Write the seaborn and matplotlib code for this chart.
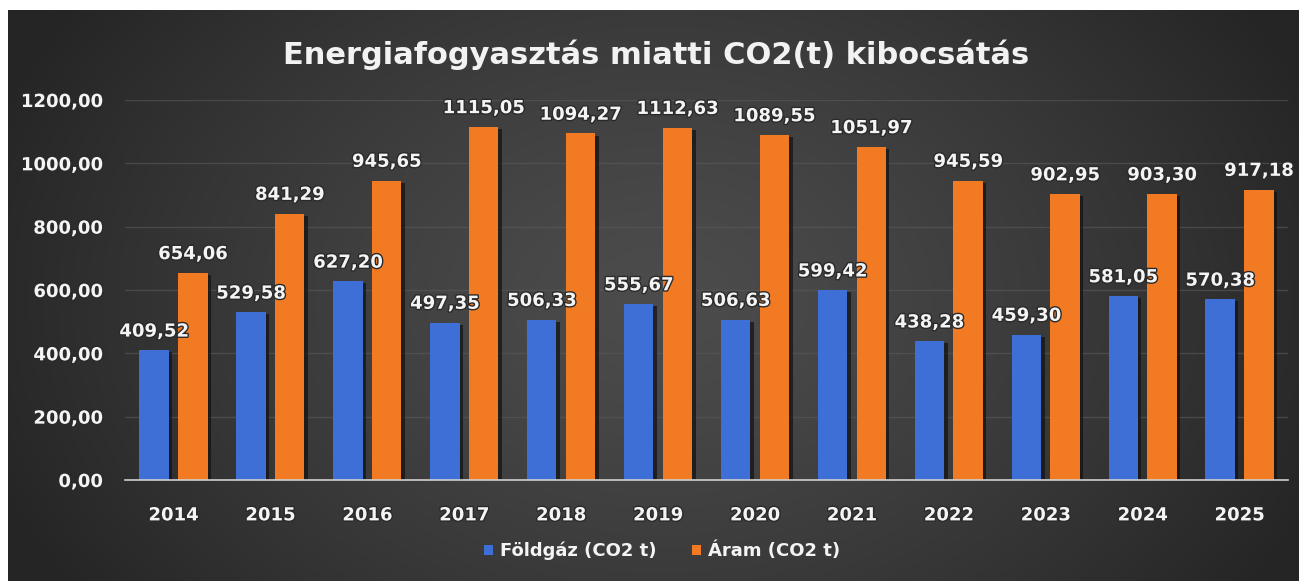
import numpy as np
import pandas as pd
import matplotlib
matplotlib.use("Agg")
import matplotlib.pyplot as plt
import matplotlib.patheffects as pe
from matplotlib.patches import Patch
import seaborn as sns

years = ["2014", "2015", "2016", "2017", "2018", "2019", "2020", "2021", "2022", "2023", "2024", "2025"]
foldgaz = [409.52, 529.58, 627.20, 497.35, 506.33, 555.67, 506.63, 599.42, 438.28, 459.30, 581.05, 570.38]
aram = [654.06, 841.29, 945.65, 1115.05, 1094.27, 1112.63, 1089.55, 1051.97, 945.59, 902.95, 903.30, 917.18]
series_names = ["Földgáz (CO2 t)", "Áram (CO2 t)"]
yticks = [0, 200, 400, 600, 800, 1000, 1200]
title = "Energiafogyasztás miatti CO2(t) kibocsátás"

colors = ["#3D6FD6", "#F27A22"]

df = pd.DataFrame({
    "year": years * 2,
    "value": foldgaz + aram,
    "series": [series_names[0]] * len(years) + [series_names[1]] * len(years),
})

sns.set_theme(style="dark")
plt.rcParams["font.family"] = ["DejaVu Sans"]

W, H = 1299, 581
fig = plt.figure(figsize=(W / 100, H / 100), dpi=100, facecolor="white")

# background panel with radial gradient
bg = fig.add_axes([8 / W, 0, 1 - 8 / W, 1 - 10 / H], zorder=-5)
gx, gy = np.meshgrid(np.linspace(8, W, 400), np.linspace(10, H, 200))
r = np.sqrt(((gx - 660) / 720) ** 2 + ((gy - 300) / 520) ** 2)
r = np.clip(r, 0, 1) ** 1.3
c_center = np.array([0x4c, 0x4c, 0x4c]) / 255
c_edge = np.array([0x25, 0x25, 0x25]) / 255
img = c_center[None, None, :] + (c_edge - c_center)[None, None, :] * r[:, :, None]
bg.imshow(img, aspect="auto", extent=[0, 1, 0, 1], origin="upper")
bg.set_axis_off()

ax = fig.add_axes([125 / W, (H - 480) / H, 1163 / W, 380 / H])
ax.set_facecolor("none")
sns.barplot(data=df, x="year", y="value", hue="series", palette=colors,
            width=0.8, gap=0.24, ax=ax, legend=False, saturation=1,
            edgecolor="none", linewidth=0)

for p in ax.patches:
    p.set_path_effects([pe.SimplePatchShadow(offset=(2.5, -1.5), shadow_rgbFace="#111111", alpha=0.7),
                        pe.Normal()])

# data labels
for container in ax.containers:
    labels = [f"{v:.2f}".replace(".", ",") for v in container.datavalues]
    ax.bar_label(container, labels=labels, padding=7, color="#f4f4f4",
                 fontsize=13, fontweight="bold", clip_on=False,
                 path_effects=[pe.withStroke(linewidth=2, foreground="#2a2a2a")])

ax.set_ylim(0, 1200)
ax.set_xlim(-0.5, 11.5)
ax.set_yticks(yticks)
ax.set_yticklabels([f"{v:.2f}".replace(".", ",") for v in yticks])
ax.set_xlabel("")
ax.set_ylabel("")
ax.grid(axis="y", color="#5a5a5a", linewidth=1, alpha=0.6)
ax.grid(axis="x", visible=False)
ax.set_axisbelow(True)
for s in ["top", "right", "left"]:
    ax.spines[s].set_visible(False)
ax.spines["bottom"].set_color("#d0d0d0")
ax.spines["bottom"].set_linewidth(1.2)
ax.tick_params(axis="y", length=0, pad=16, labelsize=13, labelcolor="#f4f4f4")
ax.tick_params(axis="x", length=0, pad=19, labelsize=13, labelcolor="#f4f4f4")
for t in ax.get_yticklabels() + ax.get_xticklabels():
    t.set_fontweight("bold")
    t.set_path_effects([pe.withStroke(linewidth=2, foreground="#2a2a2a")])

fig.text(656 / W, 1 - 55 / H, title, ha="center", va="center", color="#f2f2f2",
         fontsize=22, fontweight="bold", family=["DejaVu Sans"])

handles = [Patch(facecolor=c, edgecolor="none") for c in colors]
fig.legend(handles, series_names, loc="center", bbox_to_anchor=(662 / W, 1 - 551 / H),
           ncol=2, frameon=False, handlelength=0.5, handleheight=0.5,
           handletextpad=0.35, columnspacing=2.0,
           prop={"weight": "bold", "size": 13}, labelcolor="#f4f4f4")

fig.savefig("out.png", dpi=100, facecolor="white")
